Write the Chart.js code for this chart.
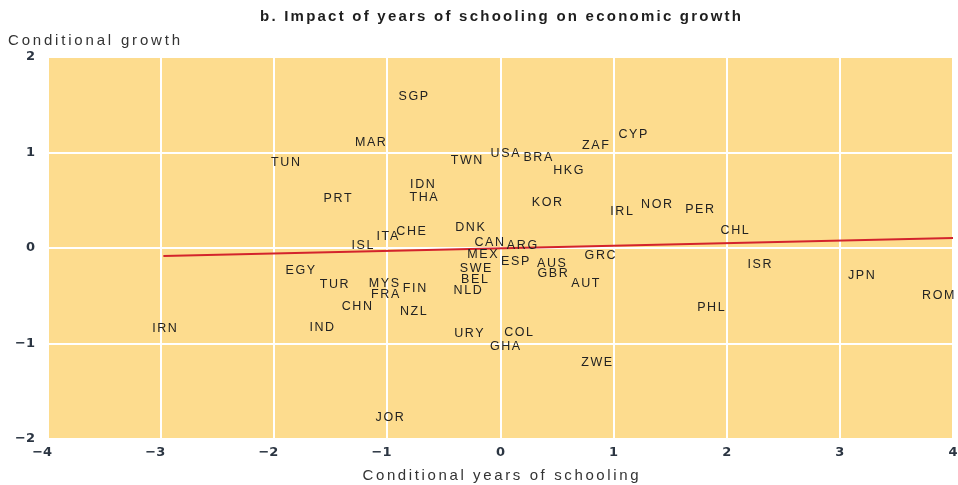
<!DOCTYPE html>
<html><head><meta charset="utf-8">
<script src="https://cdn.jsdelivr.net/npm/chart.js@4"></script>
<style>html,body{margin:0;padding:0;background:#fff;}</style>
</head><body>
<canvas id="c" width="958" height="485" style="display:block;width:958px;height:485px"></canvas>
<script>
// ---- data ----
const countries = ['SGP','MAR','CYP','ZAF','USA','BRA','TUN','TWN','HKG','IDN','THA','PRT','KOR','NOR','PER','IRL','DNK','CHL','CHE','ITA','CAN','ISL','ARG','MEX','GRC','ESP','AUS','ISR','SWE','EGY','GBR','JPN','BEL','MYS','AUT','TUR','FIN','NLD','FRA','ROM','CHN','PHL','NZL','IND','IRN','COL','URY','GHA','ZWE','JOR'];
const schoolingX = [-0.77,-1.15,1.17,0.84,0.04,0.33,-1.90,-0.30,0.60,-0.69,-0.68,-1.44,0.41,1.38,1.76,1.07,-0.27,2.07,-0.79,-1.00,-0.10,-1.22,0.19,-0.16,0.88,0.13,0.45,2.29,-0.22,-1.77,0.46,3.19,-0.23,-1.03,0.75,-1.47,-0.76,-0.29,-1.02,3.87,-1.27,1.86,-0.77,-1.58,-2.97,0.16,-0.28,0.04,0.85,-0.98];
const growthY = [1.59,1.10,1.19,1.07,0.99,0.95,0.90,0.92,0.81,0.66,0.53,0.52,0.48,0.46,0.40,0.38,0.21,0.18,0.17,0.12,0.06,0.03,0.03,-0.07,-0.08,-0.14,-0.16,-0.17,-0.22,-0.24,-0.27,-0.29,-0.33,-0.37,-0.37,-0.38,-0.42,-0.45,-0.49,-0.50,-0.61,-0.62,-0.67,-0.83,-0.84,-0.89,-0.90,-1.03,-1.20,-1.78];
const fitX = [-2.98, 4];
const fitY = [-0.084, 0.105];
const xRange = [-4, 4];
const yRange = [-2, 2];
const titleText = 'b. Impact of years of schooling on economic growth';
const yTitleText = 'Conditional growth';
const xTitleText = 'Conditional years of schooling';

const MINUS = '\u2212';
function fmt(v, pad){ if (v < 0) return MINUS + Math.abs(v) + (pad ? '  \u2009' : ''); return String(v); }

function drawSpaced(ctx, text, x, y, spacing, align){
  ctx.letterSpacing = spacing + 'px';
  const w = ctx.measureText(text).width - spacing;
  let left = x;
  if (align === 'center') left = x - w/2;
  ctx.textAlign = 'left';
  ctx.fillText(text, left, y);
  ctx.letterSpacing = '0px';
}
function drawFit(ctx, text, x, y, target, align){
  ctx.letterSpacing = '0px';
  const w0 = ctx.measureText(text).width;
  const s = (target - w0) / (text.length - 1);
  drawSpaced(ctx, text, x, y, s, align);
}

const bgPlugin = {
  id: 'bg',
  beforeDraw(chart){
    const {ctx, chartArea:a} = chart;
    ctx.save();
    ctx.fillStyle = '#ffffff';
    ctx.fillRect(0,0,chart.width,chart.height);
    ctx.fillStyle = '#FDDC8E';
    ctx.fillRect(a.left, a.top, a.right-a.left, a.bottom-a.top);
    ctx.restore();
  }
};
const labelPlugin = {
  id: 'labels',
  afterDatasetsDraw(chart){
    const ctx = chart.ctx;
    const meta = chart.getDatasetMeta(0);
    ctx.save();
    ctx.font = '12.5px "Liberation Sans", Arial, sans-serif';
    ctx.fillStyle = '#222';
    ctx.textBaseline = 'middle';
    meta.data.forEach((pt, i) => drawSpaced(ctx, countries[i], pt.x, pt.y, 1.6, 'center'));
    ctx.restore();
  },
  afterDraw(chart){
    const ctx = chart.ctx;
    const a = chart.chartArea;
    const cx = (a.left + a.right)/2;
    ctx.save();
    ctx.textBaseline = 'middle';
    ctx.fillStyle = '#1e1e1e';
    ctx.font = 'bold 15px "Liberation Sans", Arial, sans-serif';
    drawFit(ctx, titleText, cx, 17, 481, 'center');
    ctx.fillStyle = '#333';
    ctx.font = '15px "Liberation Sans", Arial, sans-serif';
    drawFit(ctx, yTitleText, 8, 41, 172, 'left');
    drawFit(ctx, xTitleText, cx, 476, 276, 'center');
    ctx.restore();
  }
};

const tickFont = {family:'"DejaVu Sans", sans-serif', size:13, weight:'bold'};
new Chart(document.getElementById('c'), {
  data: {
    datasets: [
      { type:'scatter', data: countries.map((c,i)=>({x:schoolingX[i], y:growthY[i]})), pointRadius:0, pointHoverRadius:0 },
      { type:'line', data: fitX.map((x,i)=>({x:x, y:fitY[i]})), borderColor:'#d3232c', borderWidth:2, pointRadius:0, fill:false, tension:0 }
    ]
  },
  options: {
    responsive:false, animation:false, devicePixelRatio:1,
    layout:{padding:{top:57, right:5, left:0, bottom:0}},
    plugins:{legend:{display:false}, tooltip:{enabled:false}, title:{display:false}},
    events: [],
    scales:{
      x:{type:'linear', min:xRange[0], max:xRange[1],
        afterFit: s => { s.height = 46; s.paddingLeft = 0; s.paddingRight = 0; },
        grid:{color:'#ffffff', lineWidth:2, drawTicks:false},
        border:{display:false},
        ticks:{stepSize:1, autoSkip:false, padding:6, font:tickFont, color:'#2b3542', maxRotation:0, callback: v => fmt(v, true)}
      },
      y:{type:'linear', min:yRange[0], max:yRange[1],
        afterFit: s => { s.width = 48; s.paddingTop = 0; s.paddingBottom = 0; },
        grid:{color:'#ffffff', lineWidth:2, drawTicks:false},
        border:{display:false},
        ticks:{stepSize:1, autoSkip:false, padding:13, font:tickFont, color:'#2b3542', callback: v => fmt(v, false)}
      }
    }
  },
  plugins:[bgPlugin, labelPlugin]
});
</script>
</body></html>
